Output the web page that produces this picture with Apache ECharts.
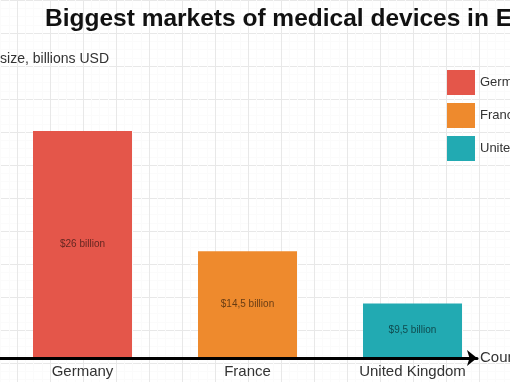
<!DOCTYPE html>
<html>
<head>
<meta charset="utf-8">
<script src="https://cdn.jsdelivr.net/npm/echarts@6/dist/echarts.min.js"></script>
<style>html,body{margin:0;padding:0;background:#fff}#c{width:510px;height:382px}</style>
</head>
<body>
<div id="c"></div>
<script>
var categories = ['Germany', 'France', 'United Kingdom'];
var values = [26, 14.5, 9.5];
var valueLabels = ['$26 billion', '$14,5 billion', '$9,5 billion'];
var colors = ['#E4564A', '#EE8A2D', '#22AAB2'];

var font = '"Liberation Sans", Arial, Helvetica, sans-serif';

var series = categories.map(function (name, i) {
  var d = categories.map(function (c, j) { return j === i ? values[i] : '-'; });
  return {
    name: name,
    type: 'bar',
    stack: 'all',
    xAxisIndex: 0,
    yAxisIndex: 0,
    barWidth: '60%',
    data: d,
    itemStyle: { color: colors[i] },
    label: {
      show: true,
      position: 'inside',
      formatter: function () { return valueLabels[i]; },
      fontFamily: font,
      fontSize: 10,
      color: 'rgba(0,0,0,0.58)'
    }
  };
});

var chart = echarts.init(document.getElementById('c'), null, { renderer: 'canvas' });
chart.setOption({
  backgroundColor: '#ffffff',
  animation: false,
  title: [
    {
      text: 'Biggest markets of medical devices in Europe',
      left: 45, top: 7, padding: 0,
      textStyle: { fontFamily: font, fontSize: 24.5, fontWeight: 'bold', color: '#111' }
    },
    {
      text: 'Market size, billions USD',
      right: 401, top: 52, padding: 0,
      textStyle: { fontFamily: font, fontSize: 14, fontWeight: 'normal', color: '#333' }
    }
  ],
  legend: {
    orient: 'vertical',
    left: 447, top: 70, padding: 0,
    itemWidth: 28, itemHeight: 25, itemGap: 8,
    icon: 'rect',
    data: categories,
    textStyle: { fontFamily: font, fontSize: 13, color: '#333' }
  },
  grid: [
    { left: 0, width: 495, top: 89, bottom: 25, outerBoundsMode: 'none', containLabel: false },
    { left: 0, width: 477, top: 89, bottom: 24, outerBoundsMode: 'none', containLabel: false },
    { left: -16, width: 528, top: 0, height: 396, z: -1, outerBoundsMode: 'none', containLabel: false }
  ],
  xAxis: [
    {
      type: 'category', gridIndex: 0, data: categories,
      axisLine: { show: false }, axisTick: { show: false },
      axisLabel: { fontFamily: font, fontSize: 15, color: '#333', margin: 7 },
      splitLine: { show: false }
    },
    {
      type: 'value', gridIndex: 1, min: 0, max: 1,
      axisLine: { show: true, lineStyle: { color: '#000', width: 3 }, symbol: ['none', 'arrow'], symbolSize: [12, 10], symbolOffset: [0, 0] },
      axisTick: { show: false }, axisLabel: { show: false }, splitLine: { show: false },
      name: 'Country', nameLocation: 'end', nameGap: 3,
      nameTextStyle: { fontFamily: font, fontSize: 15, color: '#333' }
    },
    {
      type: 'value', gridIndex: 2, min: 0, max: 16, interval: 1,
      axisLine: { show: false }, axisTick: { show: false }, axisLabel: { show: false },
      splitLine: { show: true, lineStyle: { color: '#e8e8e8', width: 1 } },
      minorTick: { show: false, splitNumber: 4 },
      minorSplitLine: { show: true, lineStyle: { color: '#fbfbfb', width: 1 } }
    }
  ],
  yAxis: [
    {
      type: 'value', gridIndex: 0, min: 4.4, max: 30,
      axisLine: { show: false }, axisTick: { show: false }, axisLabel: { show: false },
      splitLine: { show: false }
    },
    {
      type: 'value', gridIndex: 1, min: 0, max: 1, show: false
    },
    {
      type: 'value', gridIndex: 2, min: 0, max: 12, interval: 1,
      axisLine: { show: false }, axisTick: { show: false }, axisLabel: { show: false },
      splitLine: { show: true, lineStyle: { color: '#e8e8e8', width: 1 } },
      minorTick: { show: false, splitNumber: 4 },
      minorSplitLine: { show: true, lineStyle: { color: '#fbfbfb', width: 1 } }
    }
  ],
  series: series
});
</script>
</body>
</html>
